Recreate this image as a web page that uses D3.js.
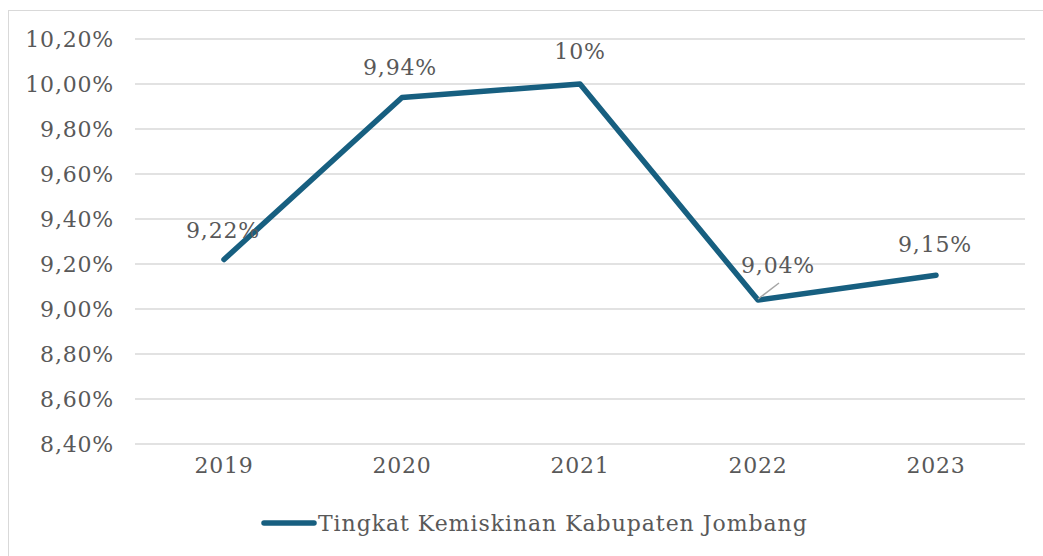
<!DOCTYPE html>
<html>
<head>
<meta charset="utf-8">
<script src="https://cdn.jsdelivr.net/npm/d3@7"></script>
<style>
  body { margin: 0; background: #fff; }
  text { font-family: "DejaVu Serif", serif; fill: #595959; letter-spacing: 0.8px; }
</style>
</head>
<body>
<div id="graph"></div>
<script>
var years = ["2019", "2020", "2021", "2022", "2023"];
var rates = [9.22, 9.94, 10.00, 9.04, 9.15];
var labels = ["9,22%", "9,94%", "10%", "9,04%", "9,15%"];
var yTicks = [8.4, 8.6, 8.8, 9.0, 9.2, 9.4, 9.6, 9.8, 10.0, 10.2];
var seriesName = "Tingkat Kemiskinan Kabupaten Jombang";

var w = 1043, h = 556;
var color = "#175f80";

var svg = d3.select("#graph").append("svg")
  .attr("width", w)
  .attr("height", h);

// chart border
svg.append("rect")
  .attr("x", 8.5).attr("y", 10.5)
  .attr("width", 1100).attr("height", 600)
  .attr("fill", "none")
  .attr("stroke", "#d9d9d9");

var x = d3.scaleBand().domain(years).range([135, 1025]);
var y = d3.scaleLinear().domain([8.4, 10.2]).range([444, 39]);

// gridlines
svg.selectAll(".grid")
  .data(yTicks)
  .enter()
  .append("line")
  .attr("x1", 135).attr("x2", 1025)
  .attr("y1", function(d) { return y(d); })
  .attr("y2", function(d) { return y(d); })
  .style("stroke", "#d9d9d9")
  .style("stroke-width", 1.5);

// y axis labels
var yAxis = d3.axisLeft(y)
  .tickValues(yTicks)
  .tickSize(0)
  .tickPadding(0)
  .tickFormat(function(d) { return d.toFixed(2).replace(".", ",") + "%"; });
var yg = svg.append("g").attr("transform", "translate(114,0)").call(yAxis);
yg.select(".domain").remove();
yg.selectAll("text").style("font-size", "22px").attr("fill", "#595959");

// x axis labels
var xAxis = d3.axisBottom(x).tickSize(0).tickPadding(0);
var xg = svg.append("g").attr("transform", "translate(0,457)").call(xAxis);
xg.select(".domain").remove();
xg.selectAll("text").style("font-size", "22px").attr("fill", "#595959").attr("dy", "0.71em");

var cx = function(d, i) { return x(years[i]) + x.bandwidth() / 2; };

// line
var line = d3.line()
  .x(function(d, i) { return cx(d, i); })
  .y(function(d) { return y(d); });

svg.append("path")
  .datum(rates)
  .attr("d", line)
  .attr("fill", "none")
  .attr("stroke", color)
  .attr("stroke-width", 5.5)
  .attr("stroke-linecap", "round")
  .attr("stroke-linejoin", "round");

// leader line for 2022 label
svg.append("line")
  .attr("x1", cx(null, 3)).attr("y1", y(rates[3]) - 1)
  .attr("x2", cx(null, 3) + 21).attr("y2", y(rates[3]) - 17)
  .style("stroke", "#a6a6a6")
  .style("stroke-width", 1.5);

// data labels
var offsets = [[-1, -22], [-2, -23], [0, -25], [20, -27], [-1, -23]];
svg.selectAll(".dlabel")
  .data(rates)
  .enter()
  .append("text")
  .attr("x", function(d, i) { return cx(d, i) + offsets[i][0]; })
  .attr("y", function(d, i) { return y(d) + offsets[i][1]; })
  .attr("text-anchor", "middle")
  .style("font-size", "22px")
  .text(function(d, i) { return labels[i]; });

// legend
svg.append("line")
  .attr("x1", 264).attr("x2", 314)
  .attr("y1", 523).attr("y2", 523)
  .attr("stroke", color)
  .attr("stroke-width", 5.5)
  .attr("stroke-linecap", "round");
svg.append("text")
  .attr("x", 318).attr("y", 531)
  .style("font-size", "22px")
  .style("letter-spacing", "0.95px")
  .text(seriesName);
</script>
</body>
</html>
